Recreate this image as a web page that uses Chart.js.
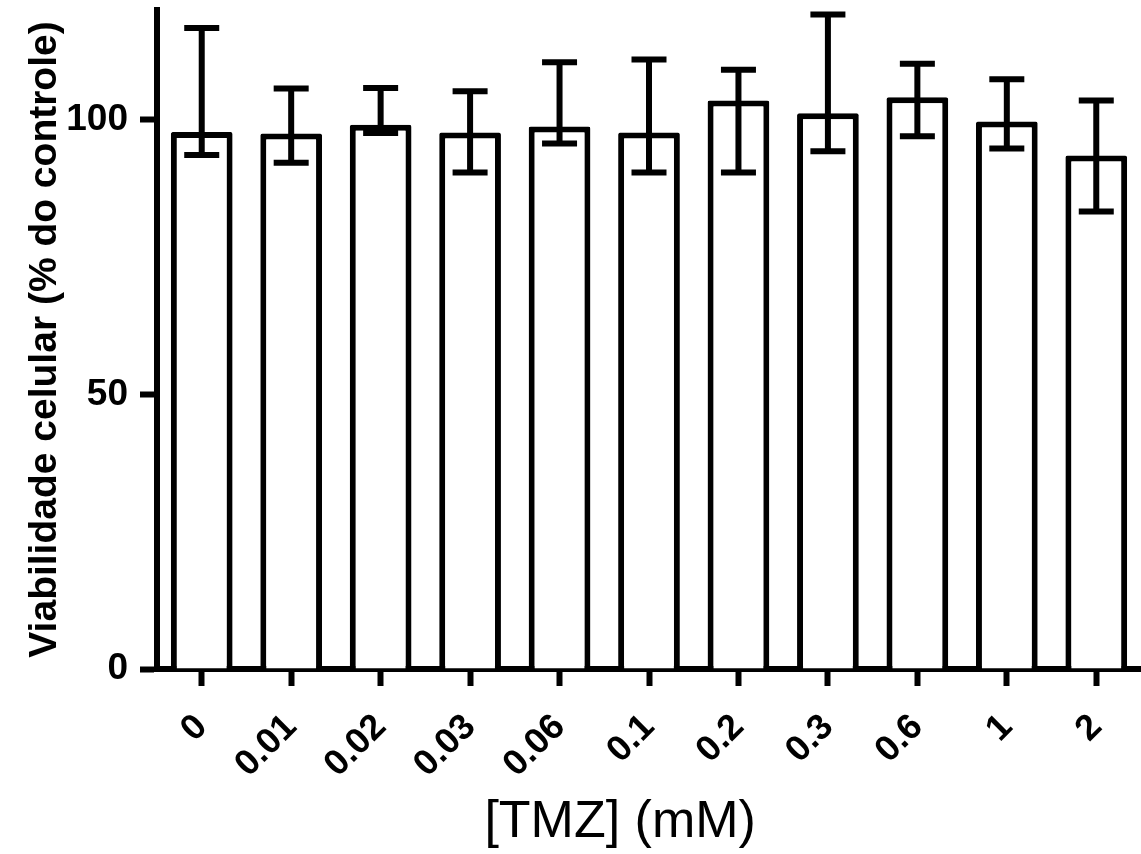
<!DOCTYPE html>
<html>
<head>
<meta charset="utf-8">
<title>Viabilidade celular - TMZ</title>
<script src="https://cdn.jsdelivr.net/npm/chart.js@4"></script>
<style>
  html, body { margin: 0; padding: 0; background: #fff; }
  canvas { display: block; }
</style>
</head>
<body>
<canvas id="viabChart" width="1141" height="854"></canvas>
<script>
// concentrations of TMZ (mM)
const doses = ['0', '0.01', '0.02', '0.03', '0.06', '0.1', '0.2', '0.3', '0.6', '1', '2'];
// mean viability (% of control)
const viability = [97.8, 97.5, 99.1, 97.7, 98.8, 97.7, 103.5, 101.2, 104.1, 99.7, 93.5];
// error bar ends
const errHigh = [116.7, 105.7, 105.8, 105.2, 110.5, 111.0, 109.1, 119.2, 110.2, 107.4, 103.5];
const errLow = [93.6, 92.2, 97.6, 90.4, 95.7, 90.4, 90.4, 94.3, 97.0, 94.8, 83.3];
const yTicks = [0, 50, 100];

const fontFamily = '"Liberation Sans", Arial, sans-serif';
const lineW = 6;

// draws the whiskers on top of the bars
const errorBars = {
    id: 'errorBars',
    afterDatasetsDraw(chart) {
        const ctx = chart.ctx;
        const x = chart.scales.x;
        const y = chart.scales.y;
        ctx.save();
        ctx.strokeStyle = '#000';
        ctx.lineWidth = lineW;
        ctx.lineCap = 'butt';
        doses.forEach((d, i) => {
            const px = x.getPixelForValue(i);
            const top = y.getPixelForValue(errHigh[i]);
            const bottom = y.getPixelForValue(errLow[i]);
            const half = 17.5;
            ctx.beginPath();
            ctx.moveTo(px, top);
            ctx.lineTo(px, bottom);
            ctx.moveTo(px - half, top);
            ctx.lineTo(px + half, top);
            ctx.moveTo(px - half, bottom);
            ctx.lineTo(px + half, bottom);
            ctx.stroke();
        });
        ctx.restore();
    }
};

const ctx = document.getElementById('viabChart');
new Chart(ctx, {
    type: 'bar',
    data: {
        labels: doses,
        datasets: [{
            data: viability,
            backgroundColor: '#fff',
            borderColor: '#000',
            borderWidth: lineW,
            borderSkipped: 'bottom',
            borderRadius: 2,
            barPercentage: 0.69,
            categoryPercentage: 1.0
        }]
    },
    options: {
        responsive: false,
        animation: false,
        layout: { padding: { top: 10, right: 0, bottom: 0, left: 0 } },
        plugins: {
            legend: { display: false },
            tooltip: { enabled: false }
        },
        scales: {
            x: {
                offset: true,
                grid: {
                    offset: false,
                    drawOnChartArea: false,
                    drawTicks: true,
                    tickLength: 17,
                    tickWidth: lineW,
                    tickColor: '#000'
                },
                border: { display: true, width: lineW, color: '#000' },
                ticks: {
                    color: '#000',
                    minRotation: 45,
                    maxRotation: 45,
                    padding: 20,
                    font: { family: fontFamily, size: 36, weight: 'bold' }
                },
                title: {
                    display: true,
                    text: '[TMZ] (mM)    ',
                    color: '#000',
                    padding: { top: 0, bottom: 0 },
                    font: { family: fontFamily, size: 52, weight: 'normal' }
                },
                afterFit(scale) {
                    scale.height = 185;
                    scale.paddingLeft = 0;
                    scale.paddingRight = 0;
                }
            },
            y: {
                min: 0,
                max: 120,
                grid: {
                    drawOnChartArea: false,
                    drawTicks: true,
                    tickLength: 17,
                    tickWidth: lineW,
                    tickColor: '#000'
                },
                border: { display: true, width: lineW, color: '#000' },
                ticks: {
                    color: '#000',
                    padding: 12,
                    includeBounds: false,
                    font: { family: fontFamily, size: 37, weight: 'bold' }
                },
                afterBuildTicks(scale) {
                    scale.ticks = yTicks.map(v => ({ value: v }));
                },
                title: {
                    display: true,
                    text: 'Viabilidade celular (% do controle)',
                    color: '#000',
                    padding: { top: 22, bottom: 0 },
                    font: { family: fontFamily, size: 39, weight: 'bold' }
                },
                afterFit(scale) {
                    scale.width = 157;
                    scale.paddingTop = 0;
                    scale.paddingBottom = 0;
                }
            }
        }
    },
    plugins: [errorBars]
});
</script>
</body>
</html>
